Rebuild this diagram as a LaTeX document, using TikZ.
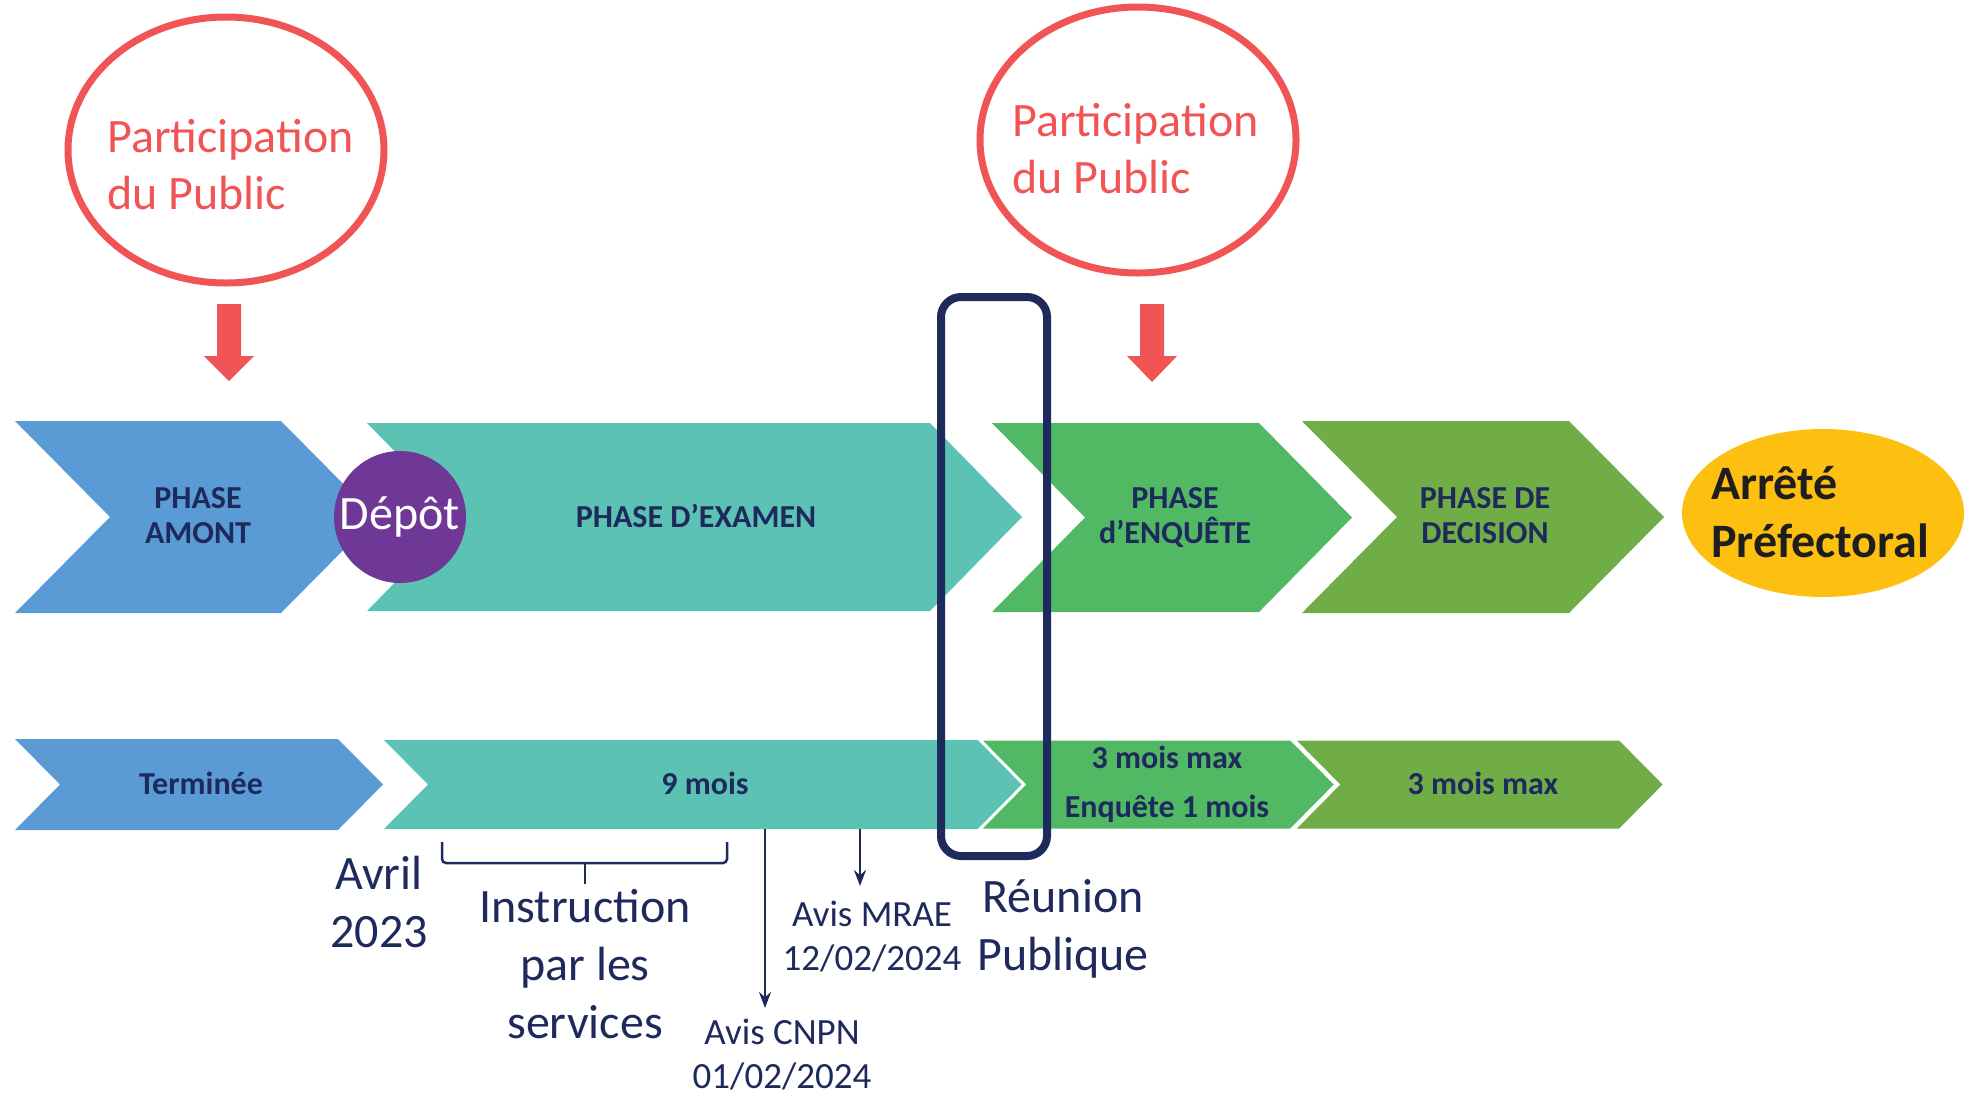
\documentclass[tikz,border=0pt]{standalone}
\usepackage{fontspec}
\setmainfont{Carlito}
\usetikzlibrary{arrows.meta,shapes.geometric}
\definecolor{navy}{RGB}{31,42,92}
\definecolor{pred}{RGB}{240,84,84}
\definecolor{cblue}{RGB}{91,155,213}
\definecolor{cteal}{RGB}{91,194,180}
\definecolor{cgreen}{RGB}{81,185,100}
\definecolor{colive}{RGB}{112,173,71}
\definecolor{cgold}{RGB}{253,192,17}
\definecolor{cpurple}{RGB}{112,56,150}
\definecolor{cdark}{RGB}{30,30,30}
\newcommand{\mychev}[6]{%
  \path[#1] (#2,#4) -- (#3,#4) -- ({#3+#6},{(#4+#5)/2}) -- (#3,#5) -- (#2,#5) -- ({#2+#6},{(#4+#5)/2}) -- cycle;}
\tikzset{
  pubell/.style={ellipse, draw=pred, line width=7pt, minimum width=316pt, minimum height=266pt, inner sep=0pt},
  pubtxt/.style={anchor=base west, align=left, text=pred, inner sep=0pt, font={\fontsize{48}{57}\selectfont}},
  phasetxt/.style={anchor=base, align=center, text=navy, inner sep=0pt, font={\bfseries\fontsize{32}{35}\selectfont}},
  bartxt/.style={anchor=base, align=center, text=navy, inner sep=0pt, font={\bfseries\fontsize{32}{49}\selectfont}},
  annot/.style={anchor=base, align=center, text=navy, inner sep=0pt, font={\fontsize{48}{58}\selectfont}},
  avis/.style={anchor=base, align=center, text=navy, inner sep=0pt, font={\fontsize{37}{44}\selectfont}},
  redarrow/.style={fill=pred},
  thinarrow/.style={draw=navy, line width=2.5pt, -{Stealth[length=16pt,width=12pt]}},
}
\begin{document}
\begin{tikzpicture}[x=1pt,y=-1pt]
\useasboundingbox (0,0) rectangle (1964,1096);
% top row chevrons
\mychev{fill=cblue}{15}{281}{421}{613}{95}
\mychev{fill=cteal}{367}{930}{423}{611}{92}
\mychev{fill=cgreen}{992}{1259}{423}{612}{93}
\mychev{fill=colive}{1302}{1569}{421}{613}{95}
% bottom row chevrons
\mychev{fill=cblue}{15}{338}{739}{830}{45}
\mychev{fill=cteal}{384}{979}{740}{829}{44}
\mychev{fill=cgreen,draw=white,line width=3pt}{979}{1291}{739}{830}{45}
\mychev{fill=colive,draw=white,line width=3pt}{1293}{1620}{739}{830}{45}
% public participation
\node[pubell] (pub1) at (226,150) {};
\node[pubtxt] (pub1t) at (107,209) {Participation\\du Public};
\node[pubell] (pub2) at (1138,140) {};
\node[pubtxt] (pub2t) at (1012,193) {Participation\\du Public};
\fill[redarrow] (217,304) -- (241,304) -- (241,356) -- (254,356) -- (229,381) -- (204,356) -- (217,356) -- cycle;
\fill[redarrow] (1140,304) -- (1164,304) -- (1164,356) -- (1177,356) -- (1152,382) -- (1127,356) -- (1140,356) -- cycle;
% top labels
\node[phasetxt] (amont) at (198,543) {PHASE\\AMONT};
\node[phasetxt] (examen) at (696,527) {PHASE D’EXAMEN};
\node[phasetxt] (enquete) at (1175,543) {PHASE\\d’ENQUÊTE};
\node[phasetxt] (decision) at (1485,543) {PHASE DE\\DECISION};
\node[circle, fill=cpurple, minimum size=132pt, inner sep=0pt, text=white, font={\fontsize{48}{55}\selectfont}] (depot) at (400,517) {Dépôt};
\node[ellipse, fill=cgold, minimum width=282pt, minimum height=168pt, inner sep=0pt] (arrete) at (1823,513) {};
\node[anchor=base west, align=left, inner sep=0pt, text=cdark, font={\bfseries\fontsize{48}{58}\selectfont}] (arretet) at (1711,557) {Arrêté\\Préfectoral};
% bottom labels
\node[bartxt] (terminee) at (201,794) {Terminée};
\node[bartxt] (neufmois) at (705,794) {9 mois};
\node[bartxt] (troismois) at (1167,817) {3 mois max\\Enquête 1 mois};
\node[bartxt] (troismoisb) at (1483,794) {3 mois max};
% reunion box
\node[draw=navy, line width=8pt, rounded corners=20pt, minimum width=106pt, minimum height=559pt, inner sep=0pt] (reunionbox) at (994,576.5) {};
% annotations
\node[annot] (avril) at (379,947) {Avril\\2023};
\draw[navy, line width=2.5pt, rounded corners=4pt] (442,842) -- (442,863) -- (727,863) -- (727,842);
\draw[navy, line width=2.5pt] (585,863) -- (585,884);
\node[annot] (instr) at (585,1038) {Instruction\\par les\\services};
\coordinate (cnpnfrom) at (765,829);
\coordinate (cnpnto) at (765,1008);
\coordinate (mraefrom) at (860,829);
\coordinate (mraeto) at (860,886);
\draw[thinarrow] (cnpnfrom) -- (cnpnto);
\draw[thinarrow] (mraefrom) -- (mraeto);
\node[avis] (cnpn) at (782,1088) {Avis CNPN\\01/02/2024};
\node[avis] (mrae) at (872,970) {Avis MRAE\\12/02/2024};
\node[annot] (reunion) at (1063,970) {Réunion\\Publique};
\end{tikzpicture}
\end{document}
